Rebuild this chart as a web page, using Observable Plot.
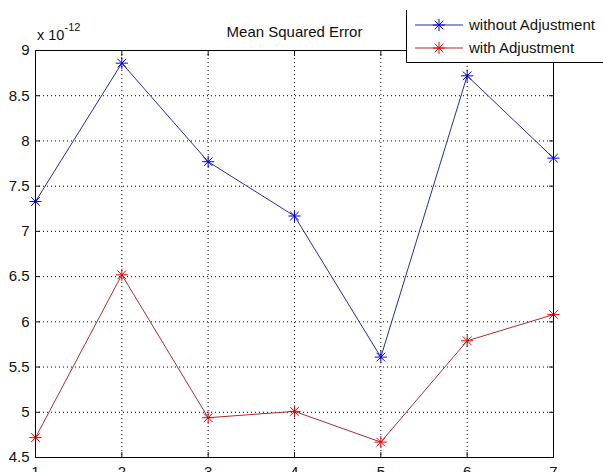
<!DOCTYPE html>
<html><head><meta charset="utf-8">
<script src="https://cdn.jsdelivr.net/npm/d3@7"></script>
<script src="https://cdn.jsdelivr.net/npm/@observablehq/plot@0.6"></script>
<style>
body{margin:0;background:#fff;}
#chart svg{display:block;}
</style></head><body><div id="chart"></div>
<script>
// ---- data (values in units of 1e-12) ----
const runs = [1, 2, 3, 4, 5, 6, 7];
const withoutAdj = [7.33, 8.86, 7.77, 7.17, 5.61, 8.72, 7.81];
const withAdj = [4.72, 6.52, 4.94, 5.01, 4.67, 5.79, 6.08];
const seriesNames = ["without Adjustment", "with Adjustment"];
const xTicks = [1, 2, 3, 4, 5, 6, 7];
const yTicks = [4.5, 5, 5.5, 6, 6.5, 7, 7.5, 8, 8.5, 9];
const titleText = "Mean Squared Error";
const expBase = "x 10";
const expPow = "-12";

// ---- styles ----
const lineColors = ["#2a2aa0", "#a83030"];
const markColors = ["#0000f0", "#e80000"];
const font = "'Liberation Sans', Arial, Helvetica, sans-serif";

const table = seriesNames.flatMap((s, i) =>
  runs.map((r, j) => ({run: r, value: [withoutAdj, withAdj][i][j], series: s})));

const grid = {stroke: "#000", strokeOpacity: 1, strokeDasharray: "1,3", strokeWidth: 1};
const noText = () => "";
const plain = d => `${d}`;

const chart = Plot.plot({
  width: 603, height: 472,
  marginLeft: 35, marginRight: 50, marginTop: 50, marginBottom: 15,
  style: {fontFamily: font, fontSize: "15px", color: "#111", background: "#fff"},
  x: {domain: [1, 7]},
  y: {domain: [4.5, 9]},
  color: {domain: seriesNames, range: lineColors},
  marks: [
    Plot.gridX(xTicks.slice(1, -1), grid),
    Plot.gridY(yTicks.slice(1, -1), grid),
    Plot.line(table, {x: "run", y: "value", z: "series", stroke: "series", strokeWidth: 1}),
    Plot.dot(table, {x: "run", y: "value", symbol: "plus", r: 4, strokeWidth: 1,
      stroke: d => markColors[seriesNames.indexOf(d.series)]}),
    Plot.dot(table, {x: "run", y: "value", symbol: "times", r: 4, strokeWidth: 1,
      stroke: d => markColors[seriesNames.indexOf(d.series)]}),
    Plot.frame({stroke: "#000"}),
    Plot.axisX({ticks: xTicks, anchor: "bottom", tickSize: -5, tickFormat: noText, label: null}),
    Plot.axisX({ticks: xTicks, anchor: "top", tickSize: -5, tickFormat: noText, label: null}),
    Plot.axisY({ticks: yTicks, anchor: "left", tickSize: -5, tickFormat: noText, label: null}),
    Plot.axisY({ticks: yTicks, anchor: "right", tickSize: -5, tickFormat: noText, label: null}),
    Plot.axisX({ticks: xTicks, anchor: "bottom", tickSize: 0, tickPadding: 9, tickFormat: plain, label: null, fontSize: 15}),
    Plot.axisY({ticks: yTicks, anchor: "left", tickSize: 0, tickPadding: 6, tickFormat: plain, label: null, fontSize: 15}),
    Plot.text([titleText], {frameAnchor: "top", dy: -18, lineAnchor: "middle", fontSize: 15}),
    Plot.text([expBase], {frameAnchor: "top-left", dx: 1.5, dy: -15, textAnchor: "start", lineAnchor: "middle", fontSize: 14.5}),
    Plot.text([expPow], {frameAnchor: "top-left", dx: 29, dy: -23, textAnchor: "start", lineAnchor: "middle", fontSize: 11})
  ]
});
document.getElementById("chart").appendChild(chart);

// ---- legend (box overlapping the top-right corner, as in the reference) ----
const svg = d3.select(chart);
const lg = svg.append("g").attr("font-family", font).attr("font-size", 15).attr("text-anchor", "start");
lg.append("rect").attr("x", 406).attr("y", -1).attr("width", 210).attr("height", 63).attr("fill", "#fff");
lg.append("path").attr("d", "M406.5,10V62.5H603").attr("fill", "none").attr("stroke", "#000");
const symSize = Math.PI * 16;
seriesNames.forEach((name, i) => {
  const y = 25 + i * 23;
  lg.append("line").attr("x1", 415).attr("x2", 463).attr("y1", y).attr("y2", y)
    .attr("stroke", lineColors[i]).attr("stroke-width", 1);
  [d3.symbolPlus, d3.symbolTimes].forEach(s => {
    lg.append("path").attr("d", d3.symbol(s, symSize)()).attr("transform", `translate(439,${y})`)
      .attr("fill", "none").attr("stroke", markColors[i]).attr("stroke-width", 1);
  });
  lg.append("text").attr("x", 469).attr("y", y).attr("dy", "0.35em")
    .attr("text-anchor", "start").attr("fill", "#111").text(name);
});
</script>
</body></html>
